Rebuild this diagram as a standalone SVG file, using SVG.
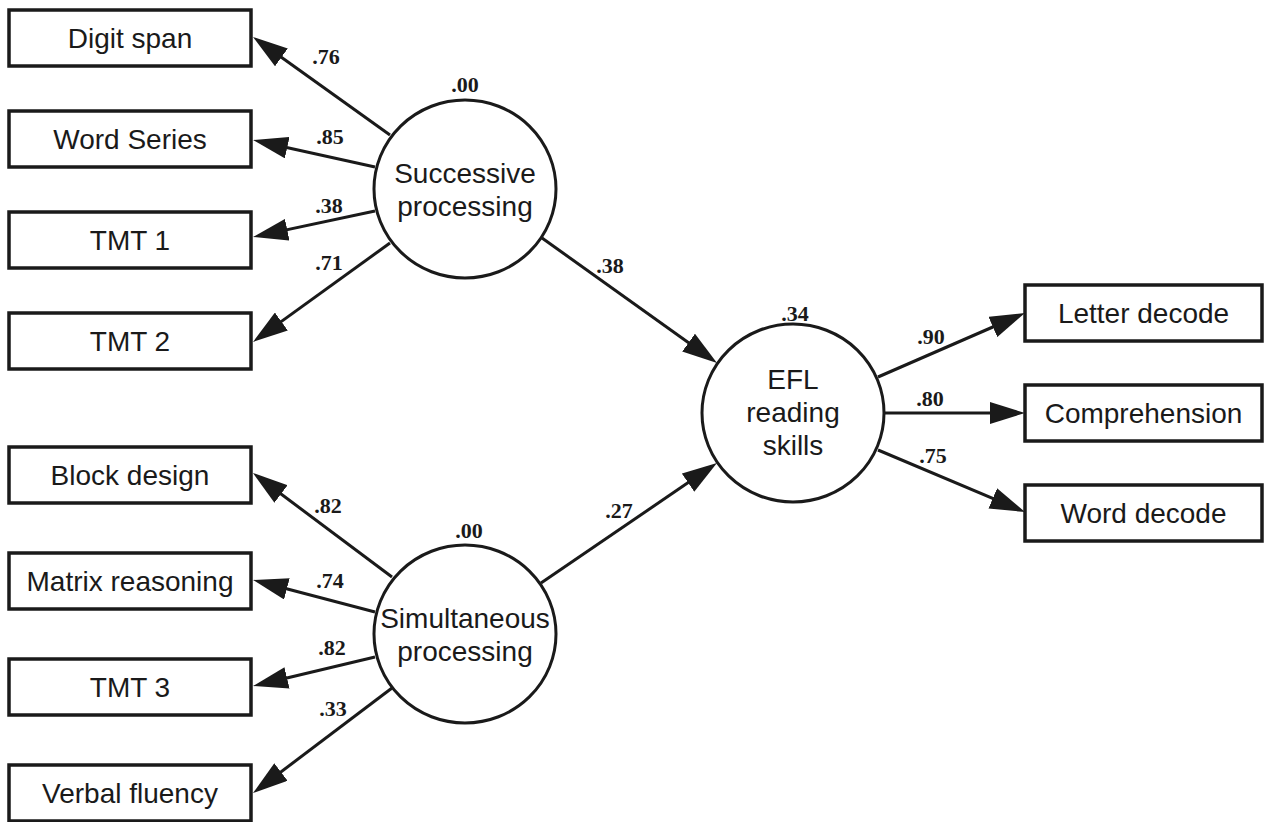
<svg xmlns="http://www.w3.org/2000/svg" width="1266" height="822" viewBox="0 0 1266 822">
<style>
.box{fill:#fff;stroke:#1a1a1a;stroke-width:3.5}
.lat{fill:#fff;stroke:#1a1a1a;stroke-width:3}
.t{font-family:"Liberation Sans",Arial,sans-serif;font-size:28px;fill:#1a1a1a;text-anchor:middle}
.c{fill:none;stroke:#1a1a1a;stroke-width:3;marker-end:url(#ah)}
.n{font-family:"Liberation Serif","Times New Roman",serif;font-weight:bold;font-size:22px;fill:#1a1a1a;text-anchor:middle}
</style>
<defs>
<marker id="ah" viewBox="0 0 35 22" markerWidth="35" markerHeight="22" refX="25" refY="11" orient="auto" markerUnits="userSpaceOnUse">
<path d="M0,0 L35,11 L0,22 Z" fill="#1a1a1a"/>
</marker>
</defs>
<rect width="1266" height="822" fill="#fff"/>
<g id="connectors">
<line class="c" x1="390" y1="135" x2="261.1" y2="42.8"/>
<line class="c" x1="375" y1="167" x2="262.8" y2="142.2"/>
<line class="c" x1="375" y1="211" x2="262.8" y2="234.9"/>
<line class="c" x1="390" y1="243" x2="261.1" y2="336.1"/>
<line class="c" x1="392" y1="577" x2="261.0" y2="479.0"/>
<line class="c" x1="375" y1="612" x2="262.7" y2="582.5"/>
<line class="c" x1="375" y1="657" x2="262.7" y2="683.7"/>
<line class="c" x1="392" y1="688" x2="261.0" y2="787.0"/>
<line class="c" x1="542" y1="238" x2="708.9" y2="357.2"/>
<line class="c" x1="541" y1="583" x2="708.7" y2="468.6"/>
<line class="c" x1="878" y1="377" x2="1015.8" y2="317.0"/>
<line class="c" x1="884" y1="413" x2="1015" y2="413"/>
<line class="c" x1="878" y1="450" x2="1015.8" y2="508.1"/>
<g id="labels">
<text class="n" x="326" y="64">.76</text>
<text class="n" x="330" y="144">.85</text>
<text class="n" x="329" y="213">.38</text>
<text class="n" x="329" y="270">.71</text>
<text class="n" x="610" y="273">.38</text>
<text class="n" x="619" y="518">.27</text>
<text class="n" x="931" y="344">.90</text>
<text class="n" x="930" y="406">.80</text>
<text class="n" x="933" y="463">.75</text>
<text class="n" x="328" y="513">.82</text>
<text class="n" x="330" y="588">.74</text>
<text class="n" x="332" y="655">.82</text>
<text class="n" x="333" y="716">.33</text>
</g>
</g>
<g id="digit-span"><rect class="box" x="9" y="10" width="242" height="56"/><text class="t" x="130" y="48">Digit span</text></g>
<g id="word-series"><rect class="box" x="9" y="111" width="242" height="56"/><text class="t" x="130" y="149">Word Series</text></g>
<g id="tmt1"><rect class="box" x="9" y="212" width="242" height="56"/><text class="t" x="130" y="250">TMT 1</text></g>
<g id="tmt2"><rect class="box" x="9" y="313" width="242" height="56"/><text class="t" x="130" y="351">TMT 2</text></g>
<g id="block-design"><rect class="box" x="9" y="447" width="242" height="56"/><text class="t" x="130" y="485">Block design</text></g>
<g id="matrix-reasoning"><rect class="box" x="9" y="553" width="242" height="56"/><text class="t" x="130" y="591">Matrix reasoning</text></g>
<g id="tmt3"><rect class="box" x="9" y="659" width="242" height="56"/><text class="t" x="130" y="697">TMT 3</text></g>
<g id="verbal-fluency"><rect class="box" x="9" y="765" width="242" height="56"/><text class="t" x="130" y="803">Verbal fluency</text></g>
<g id="letter-decode"><rect class="box" x="1025" y="285" width="237" height="56"/><text class="t" x="1143.5" y="323">Letter decode</text></g>
<g id="comprehension"><rect class="box" x="1025" y="385" width="237" height="56"/><text class="t" x="1143.5" y="423">Comprehension</text></g>
<g id="word-decode"><rect class="box" x="1025" y="485" width="237" height="56"/><text class="t" x="1143.5" y="523">Word decode</text></g>
<g id="successive"><ellipse class="lat" cx="465" cy="189" rx="91" ry="89"/><text class="t" x="465" y="183">Successive</text><text class="t" x="465" y="216">processing</text><text class="n" x="465" y="92">.00</text></g>
<g id="simultaneous"><ellipse class="lat" cx="465" cy="634" rx="91" ry="89"/><text class="t" x="465" y="628">Simultaneous</text><text class="t" x="465" y="661">processing</text><text class="n" x="469" y="538">.00</text></g>
<g id="efl"><ellipse class="lat" cx="793" cy="413" rx="91" ry="89"/><text class="t" x="793" y="389">EFL</text><text class="t" x="793" y="422">reading</text><text class="t" x="793" y="455">skills</text><text class="n" x="795" y="321">.34</text></g>
</svg>
